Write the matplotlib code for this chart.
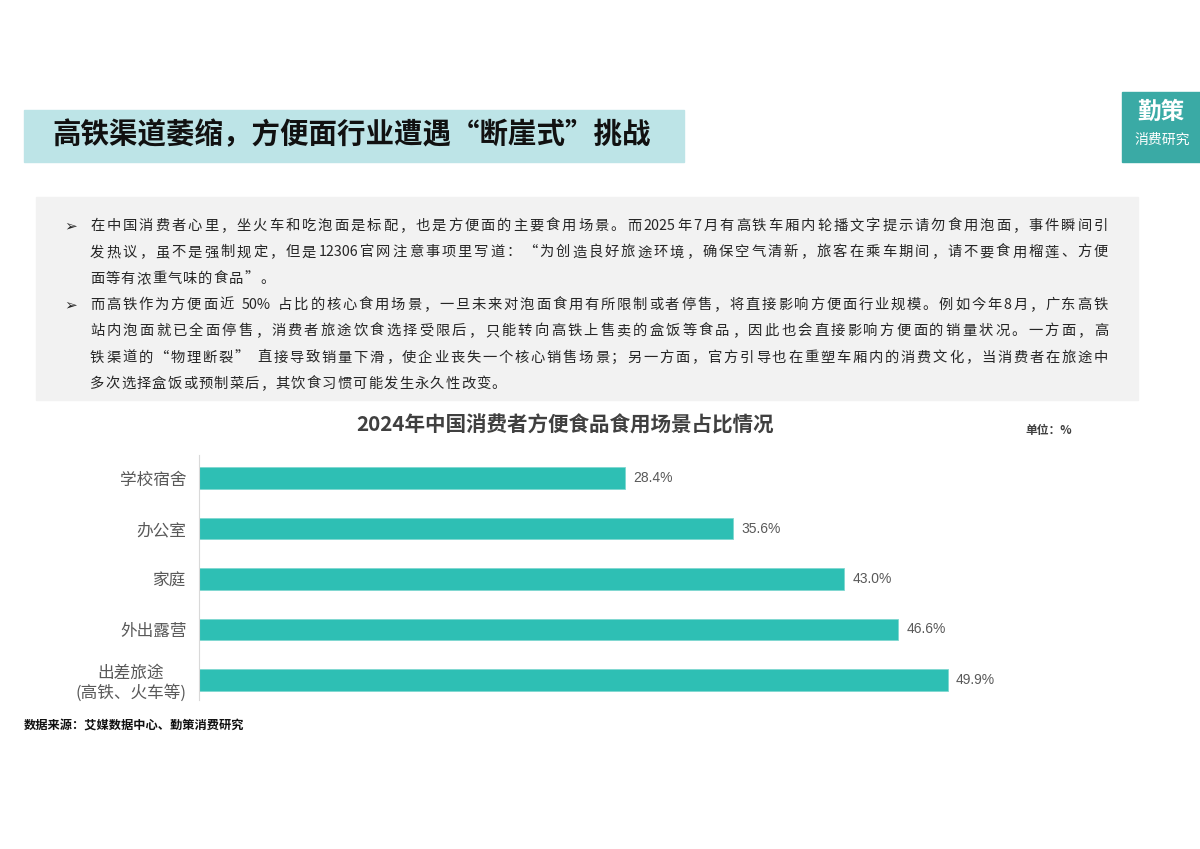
import re
import matplotlib
matplotlib.use('Agg')
import matplotlib.pyplot as plt
from matplotlib.patches import Rectangle

plt.rcParams['font.family'] = ['Noto Sans CJK SC', 'DejaVu Sans']

# chart data
scenes = ['学校宿舍', '办公室', '家庭', '外出露营', '出差旅途\n(高铁、火车等)']
shares = [28.4, 35.6, 43.0, 46.6, 49.9]

headline = '高铁渠道萎缩，方便面行业遭遇“断崖式”挑战'
chart_title = '2024年中国消费者方便食品食用场景占比情况'
unit_note = '单位：%'
source_note = '数据来源：艾媒数据中心、勤策消费研究'

bullets = [
    ['在中国消费者心里，坐火车和吃泡面是标配，也是方便面的主要食用场景。而2025年7月有高铁车厢内轮播文字提示请勿食用泡面，事件瞬间引',
     '发热议，虽不是强制规定，但是12306官网注意事项里写道：“为创造良好旅途环境，确保空气清新，旅客在乘车期间，请不要食用榴莲、方便',
     '面等有浓重气味的食品”。'],
    ['而高铁作为方便面近 50% 占比的核心食用场景，一旦未来对泡面食用有所限制或者停售，将直接影响方便面行业规模。例如今年8月，广东高铁',
     '站内泡面就已全面停售，消费者旅途饮食选择受限后，只能转向高铁上售卖的盒饭等食品，因此也会直接影响方便面的销量状况。一方面，高',
     '铁渠道的“物理断裂” 直接导致销量下滑，使企业丧失一个核心销售场景；另一方面，官方引导也在重塑车厢内的消费文化，当消费者在旅途中',
     '多次选择盒饭或预制菜后，其饮食习惯可能发生永久性改变。'],
]

W, H = 1200, 849
fig = plt.figure(figsize=(W / 100, H / 100), dpi=100)
renderer = fig.canvas.get_renderer()


def fx(x):
    return x / W


def fy(y):
    return 1 - y / H


def box(x0, y0, x1, y1, color):
    fig.patches.append(Rectangle((fx(x0), fy(y1)), (x1 - x0) / W, (y1 - y0) / H,
                                 transform=fig.transFigure, color=color, zorder=0))


def line_text(s, x0, x1, y, size, justify=True):
    # put one text line between x0 and x1, spreading characters like the slide does
    tokens = re.findall(r'[A-Za-z0-9.%]+|.', s)
    items = [fig.text(0, 0, t, fontsize=size, color='#262626', va='center') for t in tokens]
    em = size * 100 / 72
    widths = []
    for t, tok in zip(items, tokens):
        w = t.get_window_extent(renderer).width
        if ord(tok[0]) > 0x2E80:
            w = max(w, em)
        if tok == ' ':
            w = em * 0.3
        widths.append(w)
    gap = em * 0.08
    if justify and len(tokens) > 1:
        gap = (x1 - x0 - sum(widths)) / (len(tokens) - 1)
    x = x0
    for t, w in zip(items, widths):
        t.set_position((fx(x), fy(y)))
        x += w + gap


# headline banner
box(24, 110, 684, 162, '#bde4e7')
fig.text(fx(52), fy(135), headline, fontsize=20.5, fontweight='bold', color='#111111', va='center')

# logo block
box(1122, 92, 1200, 162, '#3aaaa5')
fig.text(fx(1161), fy(112), '勤策', fontsize=17, fontweight='bold', color='white', ha='center', va='center')
fig.text(fx(1162), fy(140), '消费研究', fontsize=10, color='white', ha='center', va='center')

# text panel
box(36, 197, 1138, 400, '#f2f2f2')
y = 226
for para in bullets:
    fig.text(fx(64), fy(y), '➢', fontsize=11, color='#262626', va='center',
             family=['DejaVu Sans'])
    for k, ln in enumerate(para):
        line_text(ln, 90, 1108, y, 10.3, justify=(k < len(para) - 1))
        y += 26.3

# chart
fig.text(fx(565), fy(425), chart_title, fontsize=14.8, fontweight='bold', color='#404040',
         ha='center', va='center')
fig.text(fx(1025), fy(430), unit_note, fontsize=8.5, fontweight='bold', color='#404040', va='center')

ax = fig.add_axes([fx(199), fy(700), 900 / W, 245 / H])
pos = range(len(scenes))
bars = ax.barh(pos, shares, height=0.43, color='#2ebfb4', edgecolor='#7fd8d0', linewidth=0.6)
ax.set_xlim(0, 60)
ax.set_ylim(4.4, -0.46)
ax.set_yticks(list(pos))
ax.set_yticklabels(scenes, fontsize=12, color='#595959', multialignment='center')
ax.tick_params(axis='y', length=0, pad=9)
ax.set_xticks([])
for s in ['top', 'right', 'bottom']:
    ax.spines[s].set_visible(False)
ax.spines['left'].set_color('#d9d9d9')
ax.patch.set_alpha(0)

for b, v in zip(bars, shares):
    ax.text(v + 0.55, b.get_y() + b.get_height() / 2, f'{v:.1f}%', fontsize=10,
            color='#595959', va='center', family=['Liberation Sans'])

fig.text(fx(24), fy(726), source_note, fontsize=8.8, fontweight='bold', color='#111111', va='center')

fig.savefig('out.png', dpi=100)
